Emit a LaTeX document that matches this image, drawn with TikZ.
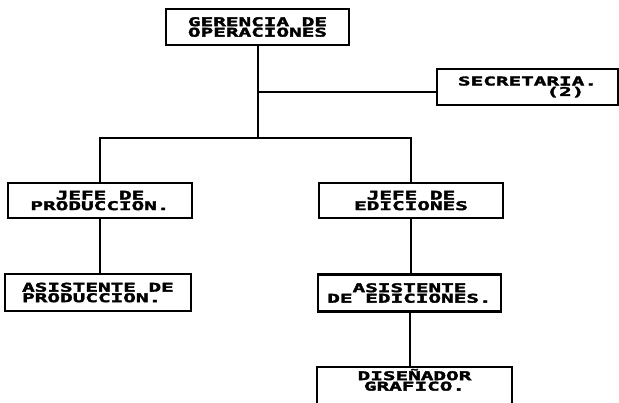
\documentclass[tikz,border=0pt]{standalone}
\usepackage{fontspec}
\newfontfamily\orgfont[FakeStretch=1.75,FakeBold=3]{DejaVu Sans Mono}
\usetikzlibrary{calc}

\tikzset{
  puesto/.style={draw=black,line width=2.2pt,fill=white,inner sep=0pt,
    minimum height=36pt,align=center,
    font=\orgfont\bfseries\fontsize{12}{10.5}\selectfont},
  linea/.style={line width=2pt,color=black}
}

\begin{document}
\begin{tikzpicture}[x=1pt,y=-1pt]

\useasboundingbox (0,0) rectangle (619,402);
\clip (0,0) rectangle (619,402);

\node[puesto,minimum width=183pt] (ger) at (257.5,27) {GERENCIA DE\\OPERACIONES};
\node[puesto,minimum width=181pt,align=right] (sec) at (527.5,87) {SECRETARIA.\\(2)\phantom{.}};

\node[puesto,minimum width=184pt,minimum height=35pt] (jprod) at (100,200.5) {JEFE DE\\PRODUCCION.};
\node[puesto,minimum width=184pt,minimum height=35pt] (jedic) at (411,200.5) {JEFE DE\\EDICIONES};

\node[puesto,minimum width=186pt,minimum height=37pt,align=left] (aprod) at (98,292.5) {ASISTENTE DE\\PRODUCCION.};
\node[puesto,minimum width=183pt,minimum height=37pt] (aedic) at (409.5,293) {ASISTENTE\\DE EDICIONES.};

\node[puesto,minimum width=195pt,minimum height=46pt] (dis) at (414.5,390) {DISEÑADOR\\GRAFICO.\\[10pt]};

\coordinate (hub) at ($(ger.south)+(0,92)$);
\coordinate (secj) at ($(ger.south)+(0,46)$);

\draw[linea] (ger.south) -- (hub);
\draw[linea] (secj) -- (secj -| sec.west);
\draw[linea] (jprod.north) |- (hub) -| (jedic.north);

\draw[linea] (jprod.south) -- (jprod.south |- aprod.north);
\draw[linea] (aedic.north -| jedic.south) -- (jedic.south);
\draw[linea] (aedic.south) -- (aedic.south |- dis.north);

\end{tikzpicture}
\end{document}
